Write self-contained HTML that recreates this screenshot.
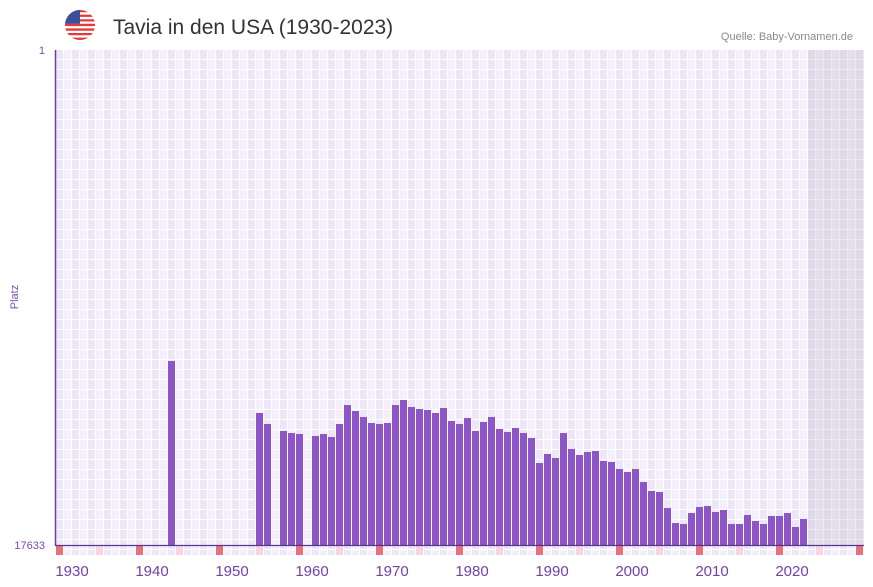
<!DOCTYPE html>
<html><head><meta charset="utf-8">
<style>
html,body{margin:0;padding:0;background:#fff;}
body{width:873px;height:587px;overflow:hidden;}
svg{display:block;}
text{font-family:"Liberation Sans",Arial,sans-serif;}
</style></head>
<body>
<svg width="873" height="587" viewBox="0 0 873 587" xmlns="http://www.w3.org/2000/svg">
<defs>
<pattern id="grid" x="56" y="50" width="16" height="10" patternUnits="userSpaceOnUse">
<rect width="16" height="10" fill="#ffffff"/>
<rect width="7" height="9" fill="#ece6f8"/>
<rect x="8" width="7" height="9" fill="#f3f0fb"/>
</pattern>
<pattern id="marks" x="56" y="546" width="80" height="9" patternUnits="userSpaceOnUse">
<rect width="7" height="9" fill="#e8727b"/>
<rect x="40" width="7" height="9" fill="#f6d7e1"/>
</pattern>
<clipPath id="flagclip"><circle cx="80" cy="25" r="15"/></clipPath>
</defs>
<g clip-path="url(#flagclip)">
<rect x="65" y="10" width="30" height="30" fill="#ffffff"/>
<path fill="#e53a3a" d="M65 10h30v2.3h-30zM65 14.6h30v2.3h-30zM65 19.2h30v2.3h-30zM65 23.8h30v2.3h-30zM65 28.4h30v2.3h-30zM65 33h30v2.3h-30zM65 37.6h30v2.4h-30z"/>
<rect x="65" y="10" width="15" height="13.8" fill="#3b4f9c"/>
</g>
<text x="113" y="34" font-size="21" fill="#333333">Tavia in den USA (1930-2023)</text>
<text x="853" y="40" font-size="11" fill="#8a8a8a" text-anchor="end">Quelle: Baby-Vornamen.de</text>
<rect x="56" y="50" width="808" height="495" fill="url(#grid)"/>
<rect x="56" y="546" width="808" height="9" fill="url(#grid)"/>
<rect x="56" y="546" width="808" height="9" fill="url(#marks)"/>
<rect x="808" y="50" width="56" height="495" fill="rgb(190,185,200)" opacity="0.3"/>
<path fill="#8d55c8" d="M168 361h7V545h-7zM256 413h7V545h-7zM264 424h7V545h-7zM280 431h7V545h-7zM288 433h7V545h-7zM296 434h7V545h-7zM312 436h7V545h-7zM320 434h7V545h-7zM328 437h7V545h-7zM336 424h7V545h-7zM344 405h7V545h-7zM352 411h7V545h-7zM360 417h7V545h-7zM368 423h7V545h-7zM376 424h7V545h-7zM384 423h7V545h-7zM392 405h7V545h-7zM400 400h7V545h-7zM408 407h7V545h-7zM416 409h7V545h-7zM424 410h7V545h-7zM432 413h7V545h-7zM440 408h7V545h-7zM448 421h7V545h-7zM456 424h7V545h-7zM464 418h7V545h-7zM472 431h7V545h-7zM480 422h7V545h-7zM488 417h7V545h-7zM496 429h7V545h-7zM504 432h7V545h-7zM512 428h7V545h-7zM520 433h7V545h-7zM528 438h7V545h-7zM536 463h7V545h-7zM544 454h7V545h-7zM552 458h7V545h-7zM560 433h7V545h-7zM568 449h7V545h-7zM576 455h7V545h-7zM584 452h7V545h-7zM592 451h7V545h-7zM600 461h7V545h-7zM608 462h7V545h-7zM616 469h7V545h-7zM624 472h7V545h-7zM632 469h7V545h-7zM640 482h7V545h-7zM648 491h7V545h-7zM656 492h7V545h-7zM664 508h7V545h-7zM672 523h7V545h-7zM680 524h7V545h-7zM688 513h7V545h-7zM696 507h7V545h-7zM704 506h7V545h-7zM712 512h7V545h-7zM720 510h7V545h-7zM728 524h7V545h-7zM736 524h7V545h-7zM744 515h7V545h-7zM752 521h7V545h-7zM760 524h7V545h-7zM768 516h7V545h-7zM776 516h7V545h-7zM784 513h7V545h-7zM792 527h7V545h-7zM800 519h7V545h-7z"/>
<line x1="55.5" y1="50" x2="55.5" y2="546" stroke="#6a3ea3" stroke-width="1.5"/>
<line x1="55" y1="545.5" x2="864" y2="545.5" stroke="#5a3590" stroke-width="1.3"/>
<text x="45" y="54" font-size="11" fill="#7a4db0" text-anchor="end">1</text>
<text x="45" y="549" font-size="11" fill="#7a4db0" text-anchor="end">17633</text>
<text transform="translate(18,297) rotate(-90)" font-size="11" fill="#7a4db0" text-anchor="middle">Platz</text>
<text y="576" font-size="15" fill="#6f42a8" text-anchor="middle"><tspan x="72">1930</tspan><tspan x="152">1940</tspan><tspan x="232">1950</tspan><tspan x="312">1960</tspan><tspan x="392">1970</tspan><tspan x="472">1980</tspan><tspan x="552">1990</tspan><tspan x="632">2000</tspan><tspan x="712">2010</tspan><tspan x="792">2020</tspan></text>
</svg>
</body></html>
